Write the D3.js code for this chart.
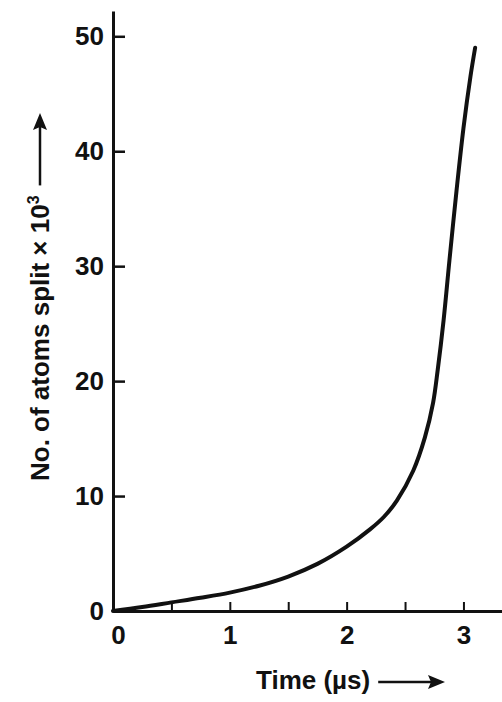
<!DOCTYPE html>
<html><head><meta charset="utf-8">
<script src="https://cdn.jsdelivr.net/npm/d3@7"></script>
<style>
body{margin:0;background:#fff;}
svg{display:block;}
text{font-family:"Liberation Sans",Arial,sans-serif;font-weight:bold;fill:#111;}
</style></head><body>
<svg id="c" width="502" height="702"></svg>
<script>
const timeUs = [0, 0.25, 0.5, 0.75, 1, 1.25, 1.5, 1.75, 2, 2.2, 2.32, 2.43, 2.57, 2.67, 2.74, 2.78, 2.83, 2.88, 2.94, 3.0, 3.06, 3.1];
const atomsSplit = [0, 0.35, 0.75, 1.15, 1.6, 2.2, 3.0, 4.1, 5.6, 7.1, 8.2, 9.6, 12.2, 15.1, 18.1, 21.0, 25.3, 30.5, 36.5, 42.0, 46.5, 49.0];
const xTicks = [0, 0.5, 1, 1.5, 2, 2.5, 3];
const yTicks = [0, 10, 20, 30, 40, 50];
const xLabel = "Time (µs)";
const yLabel = "No. of atoms split × 10";
const yLabelSup = "3";

const svg = d3.select("#c");
const x = d3.scaleLinear().domain([0, 3.33]).range([113, 502]);
const y = d3.scaleLinear().domain([0, 52.2]).range([611, 11]);
const FONT = "Liberation Sans, Arial, sans-serif";

// y axis
const gy = svg.append("g").attr("transform", `translate(${x(0)},0)`)
  .call(d3.axisLeft(y).tickValues(yTicks).tickSizeInner(-12).tickSizeOuter(0).tickPadding(9));
gy.select(".domain").attr("stroke", "#111").attr("stroke-width", 3);
gy.selectAll(".tick line").attr("stroke", "#111").attr("stroke-width", 2.5)
  .attr("display", d => d === 0 ? "none" : null);
gy.selectAll(".tick text").attr("font-size", 26).attr("font-weight", "bold")
  .attr("font-family", FONT).attr("fill", "#111");

// x axis
const gx = svg.append("g").attr("transform", `translate(0,${y(0)})`)
  .call(d3.axisBottom(x).tickValues(xTicks).tickSizeInner(-9).tickSizeOuter(0).tickPadding(15)
    .tickFormat(d => Number.isInteger(d) ? d : ""));
gx.select(".domain").attr("stroke", "#111").attr("stroke-width", 3);
gx.selectAll(".tick line").attr("stroke", "#111").attr("stroke-width", 2)
  .attr("display", d => d === 0 ? "none" : null);
gx.selectAll(".tick text").attr("font-size", 26).attr("font-weight", "bold")
  .attr("font-family", FONT).attr("fill", "#111")
  .attr("dx", d => d === 0 ? 5 : 0);

// curve
const line = d3.line().x((d, i) => x(timeUs[i])).y(d => y(d)).curve(d3.curveCatmullRom.alpha(0.5));
svg.append("path").datum(atomsSplit).attr("d", line)
  .attr("fill", "none").attr("stroke", "#111").attr("stroke-width", 4).attr("stroke-linecap", "round");

// x label
const xl = svg.append("text").attr("x", 256).attr("y", 689).attr("font-size", 26).text(xLabel);
const xlEnd = 256 + xl.node().getComputedTextLength() + 8;
svg.append("line").attr("x1", xlEnd).attr("x2", 440).attr("y1", 682).attr("y2", 682)
  .attr("stroke", "#111").attr("stroke-width", 2.5);
svg.append("path").attr("d", `M445,682 L428,675 L431,682 L428,689 Z`).attr("fill", "#111");

// y label
const yl = svg.append("text").attr("transform", "translate(49,481) rotate(-90)")
  .attr("font-size", 26).text(yLabel);
yl.append("tspan").attr("dy", -10).attr("font-size", 16).text(yLabelSup);
const ylLen = yl.node().getComputedTextLength();
const ylEnd = 481 - ylLen - 10;
svg.append("line").attr("x1", 40).attr("x2", 40).attr("y1", ylEnd).attr("y2", 120)
  .attr("stroke", "#111").attr("stroke-width", 2.5);
svg.append("path").attr("d", `M40,113 L33,130 L40,127 L47,130 Z`).attr("fill", "#111");
</script>
</body></html>
